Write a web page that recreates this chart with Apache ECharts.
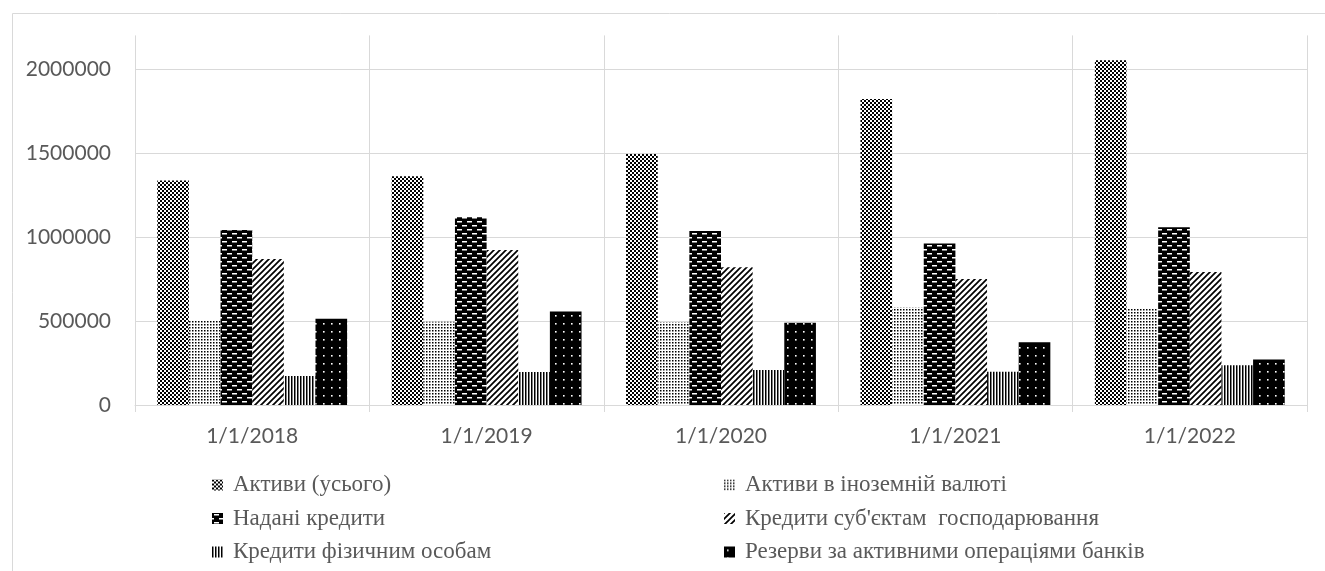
<!DOCTYPE html>
<html>
<head>
<meta charset="utf-8">
<script src="https://cdn.jsdelivr.net/npm/echarts@6/dist/echarts.min.js"></script>
<style>
  html, body { margin: 0; padding: 0; background: #ffffff; }
  #chart { width: 1325px; height: 571px; }
</style>
</head>
<body>
<div id="chart"></div>
<script>
// Dates of the balance-sheet snapshots
const categories = ['1/1/2018', '1/1/2019', '1/1/2020', '1/1/2021', '1/1/2022'];

// Series names
const seriesNames = [
  'Активи (усього)',
  'Активи в іноземній валюті',
  'Надані кредити',
  "Кредити суб'єктам  господарювання",
  'Кредити фізичним особам',
  'Резерви за активними операціями банків'
];

// Values, млн грн
const assetsTotal      = [1336000, 1362000, 1494000, 1821000, 2052000];
const assetsForeign    = [506000, 496000, 492000, 581000, 578000];
const loansTotal       = [1042000, 1117000, 1036000, 962000, 1058000];
const loansCorporate   = [869000, 922000, 820000, 750000, 791000];
const loansHouseholds  = [172000, 196000, 208000, 198000, 237000];
const reserves         = [514000, 556000, 490000, 373000, 271000];

// Value-axis ticks
const yMin = 0;
const yMax = 2200000;
const yStep = 500000;

// ---- monochrome fill patterns ----
function tile(w, h, draw) {
  const c = document.createElement('canvas');
  c.width = w; c.height = h;
  const g = c.getContext('2d');
  draw(g, w, h);
  return { image: c, repeat: 'repeat' };
}

const patChecker = tile(4, 4, (g) => {
  g.fillStyle = '#fff'; g.fillRect(0, 0, 4, 4);
  g.fillStyle = '#000'; g.fillRect(0, 0, 2, 2); g.fillRect(2, 2, 2, 2);
});

const patDots = tile(3, 3, (g) => {
  g.fillStyle = '#fff'; g.fillRect(0, 0, 3, 3);
  g.fillStyle = '#000'; g.fillRect(0, 0, 1.5, 1.5);
});

const patBricks = tile(10, 8, (g) => {
  g.fillStyle = '#000'; g.fillRect(0, 0, 10, 8);
  g.fillStyle = '#fff';
  g.fillRect(2, 1, 5, 1.5);
  g.fillRect(7, 5, 3, 1.5);
  g.fillRect(0, 5, 2, 1.5);
});

const patDiagonal = tile(6, 6, (g) => {
  g.fillStyle = '#fff'; g.fillRect(0, 0, 6, 6);
  g.strokeStyle = '#000'; g.lineWidth = 1.7;
  g.beginPath();
  g.moveTo(-1, 7); g.lineTo(7, -1);
  g.moveTo(-1, 1); g.lineTo(1, -1);
  g.moveTo(5, 7); g.lineTo(7, 5);
  g.stroke();
});

const patVertical = tile(3, 2, (g) => {
  g.fillStyle = '#fff'; g.fillRect(0, 0, 3, 2);
  g.fillStyle = '#000'; g.fillRect(0, 0, 1.5, 2);
});

const patWhiteDots = tile(8, 8, (g) => {
  g.fillStyle = '#000'; g.fillRect(0, 0, 8, 8);
  g.fillStyle = '#fff'; g.fillRect(3, 3, 1.6, 1.6);
});

const seriesData = [assetsTotal, assetsForeign, loansTotal, loansCorporate, loansHouseholds, reserves];
const fills = [patChecker, patDots, patBricks, patDiagonal, patVertical, patWhiteDots];

const gridColor = '#d9d9d9';
const textGray = '#595959';
const axisFont = 'Lato, "Open Sans", sans-serif';
const legendFont = '"Liberation Serif", "DejaVu Serif", serif';

const legendText = {
  fontFamily: legendFont,
  fontSize: 23,
  color: textGray,
  lineHeight: 23,
  padding: [0, 0, 0, 5]
};

const legendBase = {
  orient: 'vertical',
  top: 473.5,
  padding: 0,
  itemWidth: 11, itemHeight: 11, itemGap: 10.5,
  icon: 'rect',
  textStyle: legendText
};

const chart = echarts.init(document.getElementById('chart'), null, { renderer: 'canvas' });

chart.setOption({
  animation: false,
  backgroundColor: '#ffffff',
  graphic: [{
    type: 'rect',
    silent: true,
    shape: { x: 12.5, y: 13.5, width: 1400, height: 700 },
    style: { fill: 'none', stroke: gridColor, lineWidth: 1 }
  }],
  grid: { left: 135, right: 18, top: 35.4, bottom: 166, containLabel: false },
  legend: [
    Object.assign({}, legendBase, {
      data: [seriesNames[0], seriesNames[2], seriesNames[4]],
      left: 212
    }),
    Object.assign({}, legendBase, {
      data: [seriesNames[1], seriesNames[3], seriesNames[5]],
      left: 724
    })
  ],
  xAxis: {
    type: 'category',
    data: categories,
    boundaryGap: true,
    axisLine: { show: true, lineStyle: { color: gridColor, width: 1 } },
    axisTick: { show: true, length: 7, lineStyle: { color: gridColor } },
    splitLine: { show: true, lineStyle: { color: gridColor, width: 1 } },
    axisLabel: { color: textGray, fontFamily: axisFont, fontSize: 21, margin: 21 }
  },
  yAxis: {
    type: 'value',
    min: yMin,
    max: yMax,
    interval: yStep,
    axisLine: { show: false },
    axisTick: { show: false },
    splitLine: { show: true, showMaxLine: false, lineStyle: { color: gridColor, width: 1 } },
    axisLabel: {
      color: textGray, fontFamily: axisFont, fontSize: 21, margin: 24,
      showMaxLabel: false,
      formatter: (v) => (v % yStep === 0 ? String(v) : '')
    }
  },
  series: seriesNames.map((name, i) => ({
    name: name,
    type: 'bar',
    data: seriesData[i],
    barGap: '0%',
    barCategoryGap: '19%',
    itemStyle: { color: fills[i] },
    emphasis: { disabled: true }
  }))
});
</script>
</body>
</html>
